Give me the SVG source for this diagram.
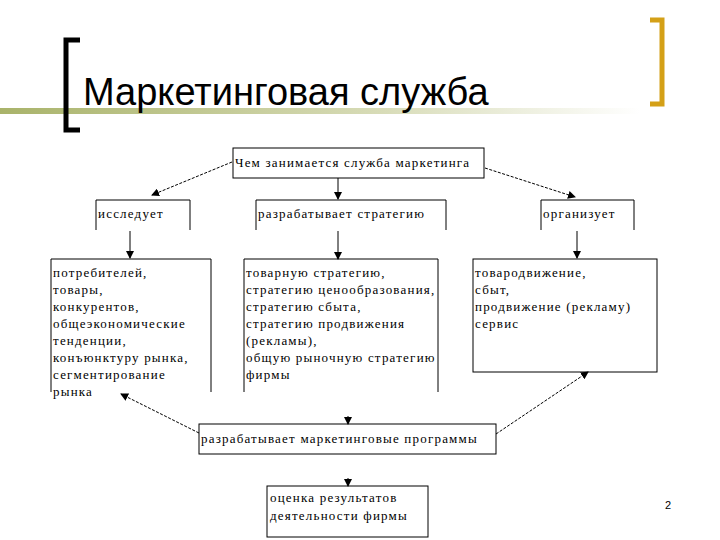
<svg xmlns="http://www.w3.org/2000/svg" width="720" height="540" viewBox="0 0 720 540">
<defs>
<linearGradient id="g" x1="0" x2="1"><stop offset="0" stop-color="#a9b36a"/><stop offset="0.6" stop-color="#d8dcb8"/><stop offset="1" stop-color="#ffffff"/></linearGradient>
<marker id="a" markerWidth="8" markerHeight="8" refX="7" refY="4" orient="auto" markerUnits="userSpaceOnUse"><path d="M0,0 L8,4 L0,8 z" fill="#000"/></marker>
<style>
.b{fill:none;stroke:#000;stroke-width:1}
.t{font-family:"Liberation Serif","DejaVu Serif",serif;font-size:13px;letter-spacing:1.2px;fill:#000}
.c{stroke:#000;stroke-width:1;fill:none;marker-end:url(#a)}
.d{stroke-dasharray:3,1.5}
</style>
</defs>
<rect width="720" height="540" fill="#fff"/>
<rect x="0" y="108" width="640" height="6" fill="url(#g)"/>
<path d="M80,40 H66 V130 H80" fill="none" stroke="#000" stroke-width="5"/>
<path d="M650,20 H662 V104 H650" fill="none" stroke="#d4a017" stroke-width="5"/>
<text x="83" y="105" font-family="Liberation Sans,Arial,sans-serif" font-size="38">Маркетинговая служба</text>
<text x="665" y="509" font-family="Liberation Sans,sans-serif" font-size="11">2</text>

<g id="connectors">
<line class="c d" x1="232" y1="162" x2="152" y2="195"/>
<line class="c" x1="338" y1="178" x2="338" y2="199"/>
<line class="c d" x1="485" y1="168" x2="575" y2="197"/>
<line class="c" x1="130" y1="231" x2="130" y2="258"/>
<line class="c" x1="338" y1="231" x2="338" y2="259"/>
<line class="c" x1="577" y1="231" x2="577" y2="258"/>
<line class="c d" x1="199" y1="433" x2="121" y2="394"/>
<line class="c d" x1="496" y1="434" x2="588" y2="372"/>
<line class="c" x1="348" y1="416" x2="348" y2="424"/>
<line class="c" x1="348" y1="478" x2="348" y2="486"/>
</g>

<g id="n0"><rect class="b" x="233" y="148" width="251" height="30"/><text class="t" x="235" y="167">Чем занимается служба маркетинга</text></g>
<g id="n1"><path class="b" d="M96,230 V200 H190 V230"/><text class="t" x="98" y="218">исследует</text></g>
<g id="n2"><path class="b" d="M256,230 V200 H446 V230"/><text class="t" x="258" y="218">разрабатывает стратегию</text></g>
<g id="n3"><path class="b" d="M541,230 V200 H634 V230"/><text class="t" x="543" y="218">организует</text></g>
<g id="n4"><path class="b" d="M51,392 V259 H211 V392"/><text class="t" x="53" y="277">потребителей,<tspan x="53" dy="17">товары,</tspan><tspan x="53" dy="17">конкурентов,</tspan><tspan x="53" dy="17">общеэкономические</tspan><tspan x="53" dy="17">тенденции,</tspan><tspan x="53" dy="17">конъюнктуру рынка,</tspan><tspan x="53" dy="17">сегментирование</tspan><tspan x="53" dy="17">рынка</tspan></text></g>
<g id="n5"><path class="b" d="M244,392 V259 H438 V392"/><text class="t" x="246" y="277">товарную стратегию,<tspan x="246" dy="17">стратегию ценообразования,</tspan><tspan x="246" dy="17">стратегию сбыта,</tspan><tspan x="246" dy="17">стратегию продвижения</tspan><tspan x="246" dy="17">(рекламы),</tspan><tspan x="246" dy="17">общую рыночную стратегию</tspan><tspan x="246" dy="17">фирмы</tspan></text></g>
<g id="n6"><rect class="b" x="473" y="259" width="184" height="113"/><text class="t" x="475" y="277">товародвижение,<tspan x="475" dy="17">сбыт,</tspan><tspan x="475" dy="17">продвижение (рекламу)</tspan><tspan x="475" dy="17">сервис</tspan></text></g>
<g id="n7"><rect class="b" x="199" y="424" width="297" height="30"/><text class="t" x="201" y="443">разрабатывает маркетинговые программы</text></g>
<g id="n8"><rect class="b" x="267" y="486" width="161" height="51"/><text class="t" x="270" y="502">оценка результатов<tspan x="270" dy="18">деятельности фирмы</tspan></text></g>
</svg>
